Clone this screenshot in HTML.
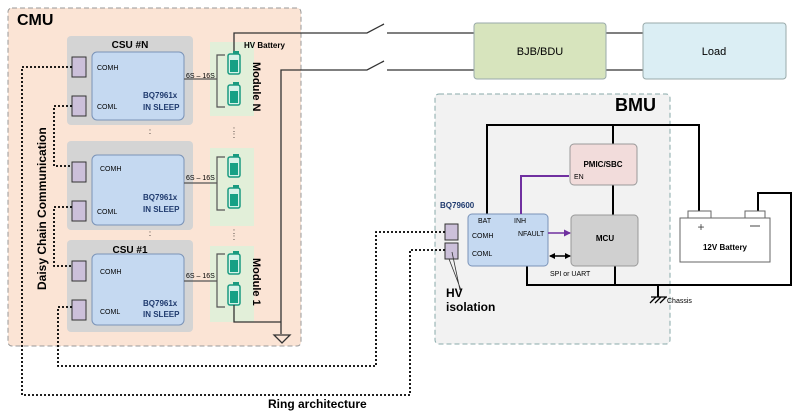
<!DOCTYPE html>
<html><head><meta charset="utf-8"><style>
body{margin:0;background:#fff;}
svg{display:block;font-family:"Liberation Sans",sans-serif;}
.b{font-weight:bold}
</style></head><body>
<svg width="799" height="418" viewBox="0 0 799 418" xmlns="http://www.w3.org/2000/svg">
<defs>
<g id="cell"><rect x="-1" y="-3" width="6" height="3" fill="#1a9a80"/><rect x="-6" y="0" width="12" height="20" rx="2" fill="#d7f2e8" stroke="#1a9a80" stroke-width="1.5"/><rect x="-4" y="6" width="8" height="12" fill="#16a085"/></g>
<marker id="ap" markerUnits="userSpaceOnUse" markerWidth="7" markerHeight="7" refX="6" refY="3.5" orient="auto"><path d="M0,0L7,3.5L0,7z" fill="#7030a0"/></marker>
<marker id="ak" markerUnits="userSpaceOnUse" markerWidth="6" markerHeight="6" refX="5" refY="3" orient="auto-start-reverse"><path d="M0,0L6,3L0,6z" fill="#000"/></marker>
</defs>
<!-- CMU -->
<rect x="8" y="8" width="293" height="338" rx="4" fill="#fbe4d5" stroke="#999" stroke-dasharray="5,3"/>
<text x="17" y="25" class="b" font-size="16">CMU</text>
<!-- CSUs -->
<g>
<rect x="67" y="36" width="126" height="89" rx="4" fill="#d4d4d4"/>
<rect x="92" y="52" width="92" height="68" rx="5" fill="#c5d9f1" stroke="#7a93b8"/>
<text x="130" y="48" text-anchor="middle" class="b" font-size="10">CSU #N</text>
<rect x="72" y="57" width="14" height="20" fill="#ccc0da" stroke="#333"/><rect x="72" y="96" width="14" height="20" fill="#ccc0da" stroke="#333"/>
<text x="97" y="70" font-size="7">COMH</text><text x="97" y="109" font-size="7">COML</text>
<text x="143" y="98" font-size="8" class="b" fill="#1f3a6e">BQ7961x</text><text x="143" y="110" font-size="8" class="b" fill="#1f3a6e">IN SLEEP</text>
</g>
<g transform="translate(0,105)">
<rect x="67" y="36" width="126" height="89" rx="4" fill="#d4d4d4"/>
<rect x="92" y="50" width="92" height="70" rx="5" fill="#c5d9f1" stroke="#7a93b8"/>
<rect x="72" y="57" width="14" height="20" fill="#ccc0da" stroke="#333"/><rect x="72" y="96" width="14" height="20" fill="#ccc0da" stroke="#333"/>
<text x="100" y="66" font-size="7">COMH</text><text x="97" y="109" font-size="7">COML</text>
<text x="143" y="95" font-size="8" class="b" fill="#1f3a6e">BQ7961x</text><text x="143" y="107" font-size="8" class="b" fill="#1f3a6e">IN SLEEP</text>
</g>
<g transform="translate(0,204)">
<rect x="67" y="36" width="126" height="92" rx="4" fill="#d4d4d4"/>
<rect x="92" y="50" width="92" height="71" rx="5" fill="#c5d9f1" stroke="#7a93b8"/>
<text x="130" y="50" text-anchor="middle" class="b" font-size="10" dy="-1">CSU #1</text>
<rect x="72" y="57" width="14" height="20" fill="#ccc0da" stroke="#333"/><rect x="72" y="96" width="14" height="20" fill="#ccc0da" stroke="#333"/>
<text x="100" y="70" font-size="7">COMH</text><text x="100" y="110" font-size="7">COML</text>
<text x="143" y="102" font-size="8" class="b" fill="#1f3a6e">BQ7961x</text><text x="143" y="113" font-size="8" class="b" fill="#1f3a6e">IN SLEEP</text>
</g>
<text x="150" y="134" font-size="8" text-anchor="middle">:</text>
<text x="150" y="236" font-size="8" text-anchor="middle">:</text>
<!-- modules -->
<rect x="210" y="42" width="44" height="74" fill="#e2efd9"/>
<rect x="210" y="148" width="44" height="78" fill="#e2efd9"/>
<rect x="210" y="246" width="44" height="76" fill="#e2efd9"/>
<g fill="none" stroke="#555" stroke-width="1.2">
<path d="M225,55H217V107H225"/><path d="M225,157H217V210H225"/><path d="M225,254H217V307H225"/>
<path d="M184,79H217M184,183H217M184,281H217"/>
</g>
<use href="#cell" x="234" y="54"/><use href="#cell" x="234" y="85"/>
<use href="#cell" x="234" y="157"/><use href="#cell" x="234" y="188"/>
<use href="#cell" x="234" y="254"/><use href="#cell" x="234" y="285"/>
<text x="186" y="78" font-size="7">6S – 16S</text><text x="186" y="180" font-size="7">6S – 16S</text><text x="186" y="278" font-size="7">6S – 16S</text>
<text x="234" y="132" font-size="8" text-anchor="middle">:</text><text x="234" y="138" font-size="8" text-anchor="middle">:</text>
<text x="234" y="234" font-size="8" text-anchor="middle">:</text><text x="234" y="240" font-size="8" text-anchor="middle">:</text>
<text transform="translate(253,62) rotate(90)" class="b" font-size="11">Module N</text>
<text transform="translate(253,258) rotate(90)" class="b" font-size="11">Module 1</text>
<text x="244" y="48" class="b" font-size="8">HV Battery</text>
<!-- HV wires -->
<g fill="none" stroke="#333" stroke-width="1.3">
<path d="M234,51V33H367L384,24M387,33H474"/>
<path d="M281,334V70H367L384,61M387,70H474"/>
<path d="M234,305V322H281"/>
<path d="M606,33H643M606,70H643"/>
<path d="M274,335H290L282,343Z"/>
</g>
<rect x="474" y="23" width="132" height="56" rx="3" fill="#d7e4bd" stroke="#9aa"/>
<text x="540" y="55" text-anchor="middle" font-size="11">BJB/BDU</text>
<rect x="643" y="23" width="143" height="56" rx="3" fill="#dbeef4" stroke="#9aa"/>
<text x="714" y="55" text-anchor="middle" font-size="11">Load</text>
<!-- BMU -->
<rect x="435" y="94" width="235" height="250" rx="4" fill="#f2f2f2" stroke="#8aa" stroke-dasharray="5,3"/>
<text x="615" y="111" class="b" font-size="18">BMU</text>
<g fill="none" stroke="#000" stroke-width="2">
<path d="M487,215V125H699V211"/>
<path d="M613,125V144M613,185V215"/>
<path d="M527,266V285H791V193H758V211"/>
<path d="M615,266V285"/>
<path d="M658,285V297"/>
</g>
<path d="M650,303L656,297M655,303L661,297M660,303L666,297M651,297H667" stroke="#000" stroke-width="1.3"/>
<text x="667" y="303" font-size="7">Chassis</text>
<rect x="570" y="144" width="67" height="41" rx="4" fill="#f2dcdb" stroke="#999"/>
<text x="603" y="167" text-anchor="middle" class="b" font-size="8">PMIC/SBC</text>
<text x="574" y="179" font-size="7">EN</text>
<rect x="571" y="215" width="67" height="51" rx="4" fill="#d0d0d0" stroke="#999"/>
<text x="605" y="241" text-anchor="middle" class="b" font-size="8">MCU</text>
<rect x="468" y="214" width="80" height="52" rx="4" fill="#c5d9f1" stroke="#7a93b8"/>
<text x="478" y="223" font-size="7">BAT</text><text x="514" y="223" font-size="7">INH</text>
<text x="472" y="238" font-size="7">COMH</text><text x="518" y="236" font-size="7">NFAULT</text>
<text x="472" y="256" font-size="7">COML</text>
<text x="440" y="208" class="b" font-size="8" fill="#1f3a6e">BQ79600</text>
<path d="M521,214V176H569" fill="none" stroke="#7030a0" stroke-width="2"/>
<path d="M548,233H570" stroke="#7030a0" stroke-width="1.5" marker-end="url(#ap)"/>
<path d="M550,256H570" stroke="#000" stroke-width="1.5" marker-end="url(#ak)" marker-start="url(#ak)"/>
<text x="550" y="276" font-size="7">SPI or UART</text>
<rect x="445" y="224" width="13" height="16" fill="#ccc0da" stroke="#333"/>
<rect x="445" y="243" width="13" height="16" fill="#ccc0da" stroke="#333"/>
<path d="M452,252L460,290M449,259L461,290" stroke="#333" stroke-width="0.8"/>
<text x="446" y="297" class="b" font-size="12">HV</text><text x="446" y="311" class="b" font-size="12">isolation</text>
<!-- 12V battery -->
<rect x="688" y="211" width="23" height="7" fill="#fff" stroke="#666"/>
<rect x="745" y="211" width="20" height="7" fill="#fff" stroke="#666"/>
<rect x="680" y="218" width="90" height="44" fill="#fff" stroke="#666"/>
<text x="701" y="231" font-size="12" text-anchor="middle" fill="#444">+</text>
<path d="M750,226H760" stroke="#444"/>
<text x="725" y="250" text-anchor="middle" class="b" font-size="8">12V Battery</text>
<!-- dotted -->
<g fill="none" stroke="#000" stroke-width="1.8" stroke-dasharray="2,2">
<path d="M72,67H22V395H410V250H445"/>
<path d="M72,307H58V366H376V232H445"/>
<path d="M72,106H54V166H72"/>
<path d="M72,207H54V266H72"/>
</g>
<text transform="translate(46,290) rotate(-90)" class="b" font-size="12">Daisy Chain Communication</text>
<text x="268" y="408" class="b" font-size="12">Ring architecture</text>
</svg>
</body></html>
